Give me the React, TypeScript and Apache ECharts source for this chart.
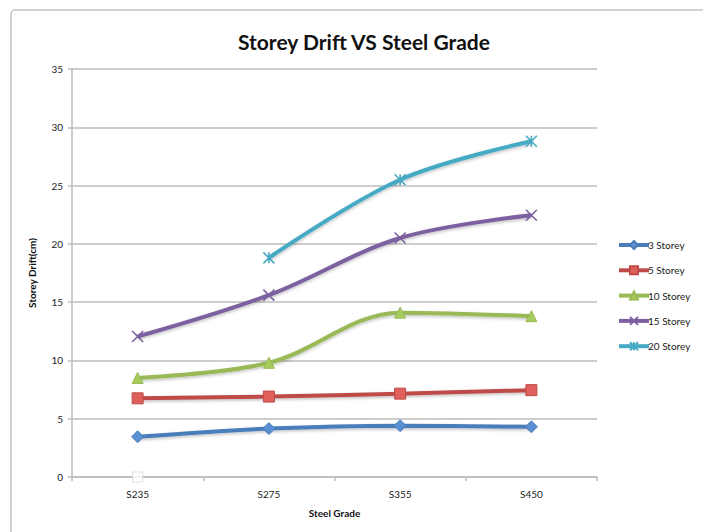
import React, { useEffect, useRef } from "react";
import * as echarts from "echarts";

// Steel grades on the category axis
const grades = ["S235", "S275", "S355", "S450"];

// Storey drift (cm) per building height
const storey3 = [3.45, 4.15, 4.4, 4.3];
const storey5 = [6.75, 6.9, 7.15, 7.45];
const storey10 = [8.5, 9.8, 14.1, 13.8];
const storey15 = [12.05, 15.6, 20.5, 22.45];
const storey20 = [null, 18.8, 25.5, 28.8];
// empty placeholder marker sitting on the baseline at S235
const blankPoint = [0, null, null, null];

const seriesNames = ["3 Storey", "5 Storey", "10 Storey", "15 Storey", "20 Storey"];
const yTicks = { min: 0, max: 35, interval: 5 };

const FONT = "Lato, 'Open Sans', sans-serif";
const X_PATH = "path://M0,0 L10,10 M10,0 L0,10";
const STAR_PATH = "path://M0,0 L10,10 M10,0 L0,10 M5,0 L5,10";

function lineSeries(
  name: string,
  data: (number | null)[],
  color: string,
  markerFill: string,
  symbol: string,
  size: number,
  stroked: boolean
) {
  return {
    name,
    type: "line",
    data,
    smooth: 0.35,
    symbol,
    symbolSize: size,
    showSymbol: true,
    connectNulls: false,
    lineStyle: {
      color,
      width: 4,
      shadowColor: "rgba(0,0,0,0.25)",
      shadowBlur: 3,
      shadowOffsetY: 1.5,
    },
    itemStyle: stroked
      ? { color, borderColor: color, borderWidth: 1.6 }
      : { color: markerFill, borderColor: color, borderWidth: 1 },
    emphasis: { disabled: true },
    z: 3,
  };
}

export default function App() {
  const ref = useRef<HTMLDivElement>(null);

  useEffect(() => {
    if (!ref.current) return;
    const chart = echarts.init(ref.current, undefined, { renderer: "svg" });

    chart.setOption({
      animation: false,
      backgroundColor: "#ffffff",
      textStyle: { fontFamily: FONT },
      graphic: [
        {
          type: "rect",
          shape: { x: 11, y: 10, width: 720, height: 560, r: 4 },
          style: { fill: "none", stroke: "#c4c4c4", lineWidth: 1.5 },
          silent: true,
          z: -1,
        },
      ],
      title: {
        text: "Storey Drift VS Steel Grade",
        left: 233,
        top: 26,
        textStyle: { fontFamily: FONT, fontWeight: "bold", fontSize: 21, color: "#111" },
      },
      legend: {
        orient: "vertical",
        left: 612,
        top: 235,
        itemGap: 15.3,
        itemWidth: 30,
        itemHeight: 10,
        data: seriesNames,
        lineStyle: { width: 4 },
        textStyle: { fontFamily: FONT, fontSize: 10, color: "#222", padding: [0, 0, 0, -6] },
      },
      grid: { left: 72, right: 106, top: 69, bottom: 55, containLabel: false },
      xAxis: {
        type: "category",
        data: grades,
        boundaryGap: true,
        name: "Steel Grade",
        nameLocation: "middle",
        nameGap: 31,
        nameTextStyle: { fontFamily: FONT, fontWeight: "bold", fontSize: 10, color: "#111" },
        axisLine: { lineStyle: { color: "#bdbdbd", width: 1.5 } },
        axisTick: { show: true, alignWithLabel: false, length: 4, lineStyle: { color: "#bdbdbd", width: 1.5 } },
        axisLabel: { fontFamily: FONT, fontSize: 10, color: "#222", margin: 12 },
        splitLine: { show: false },
      },
      yAxis: {
        type: "value",
        min: yTicks.min,
        max: yTicks.max,
        interval: yTicks.interval,
        name: "Storey Drift(cm)",
        nameLocation: "middle",
        nameGap: 35,
        nameRotate: 90,
        nameTextStyle: { fontFamily: FONT, fontWeight: "bold", fontSize: 10, color: "#111" },
        axisLine: { show: true, lineStyle: { color: "#bdbdbd", width: 1.5 } },
        axisTick: { show: true, length: 4, lineStyle: { color: "#bdbdbd", width: 1.5 } },
        axisLabel: { fontFamily: FONT, fontSize: 10, color: "#222", margin: 9 },
        splitLine: { show: true, lineStyle: { color: "#bdbdbd", width: 1.5 } },
      },
      series: [
        lineSeries(seriesNames[0], storey3, "#4a7ebb", "#5b8fd3", "diamond", 12, false),
        lineSeries(seriesNames[1], storey5, "#be4b48", "#e0605c", "rect", 11, false),
        lineSeries(seriesNames[2], storey10, "#98b954", "#a8cc5c", "triangle", 11, false),
        lineSeries(seriesNames[3], storey15, "#7d60a0", "#7d60a0", X_PATH, 11, true),
        lineSeries(seriesNames[4], storey20, "#46aac5", "#46aac5", STAR_PATH, 11, true),
        {
          name: "blank",
          type: "scatter",
          data: blankPoint,
          symbol: "rect",
          symbolSize: 10,
          itemStyle: { color: "#ffffff", borderColor: "#d8d8d8", borderWidth: 1 },
          emphasis: { disabled: true },
          z: 2,
        },
      ],
    });

    return () => chart.dispose();
  }, []);

  return (
    <div
      ref={ref}
      style={{ position: "fixed", left: 0, top: 0, width: 703, height: 532 }}
    />
  );
}
